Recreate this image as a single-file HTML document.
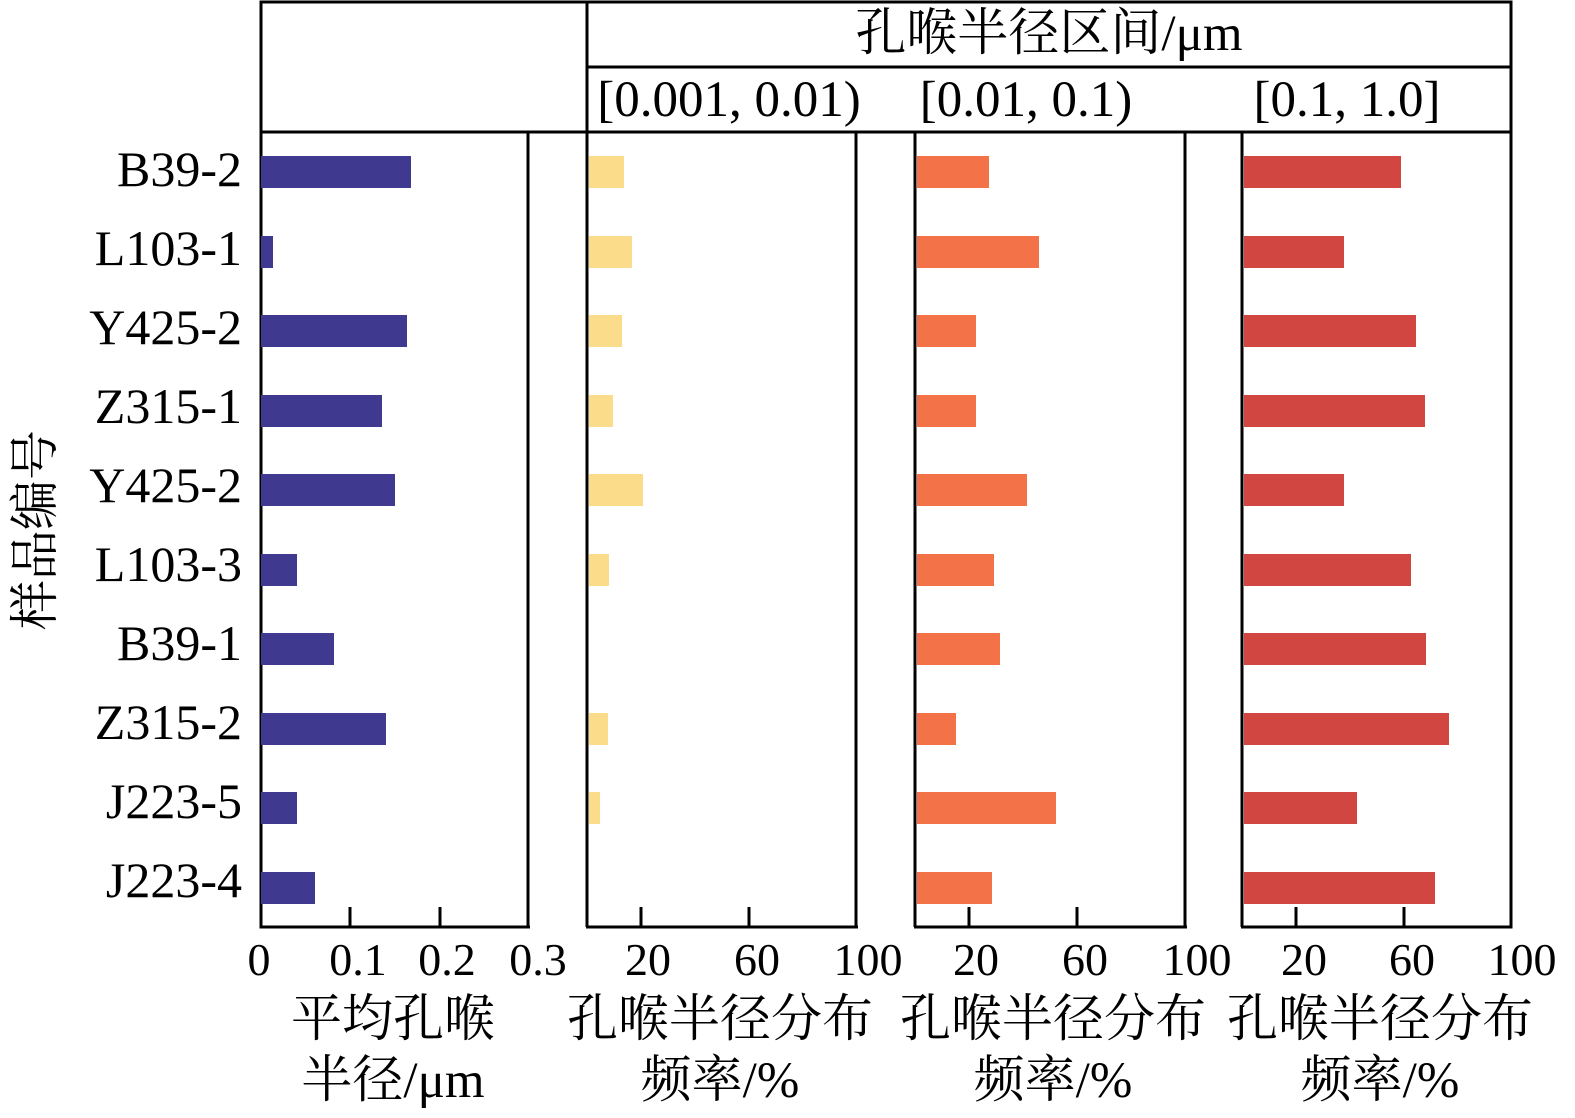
<!DOCTYPE html>
<html><head><meta charset="utf-8"><style>html,body{margin:0;background:#fff;overflow:hidden}svg{display:block}text{font-family:"Liberation Serif","Noto Serif CJK SC",serif;fill:#000}</style></head>
<body>
<svg width="1575" height="1118" viewBox="0 0 1575 1118" xmlns="http://www.w3.org/2000/svg">
<g fill="none" stroke="#000" stroke-width="3">
<rect x="261" y="2" width="1250" height="925"/>
<line x1="261" y1="132" x2="1511" y2="132"/>
</g>
<rect x="530" y="134" width="56" height="795" fill="#fff"/>
<rect x="858" y="134" width="56" height="795" fill="#fff"/>
<rect x="1187" y="134" width="54" height="795" fill="#fff"/>
<g stroke="#000" stroke-width="3">
<line x1="528" y1="132" x2="528" y2="927"/>
<line x1="587" y1="2" x2="587" y2="927"/>
<line x1="587" y1="67" x2="1511" y2="67"/>
<line x1="856" y1="132" x2="856" y2="927"/>
<line x1="915" y1="132" x2="915" y2="927"/>
<line x1="1185" y1="132" x2="1185" y2="927"/>
<line x1="1242" y1="132" x2="1242" y2="927"/>
<line x1="261" y1="927" x2="528" y2="927"/>
<line x1="587" y1="927" x2="856" y2="927"/>
<line x1="915" y1="927" x2="1185" y2="927"/>
<line x1="1242" y1="927" x2="1511" y2="927"/>
<line x1="350" y1="907" x2="350" y2="927"/><line x1="440" y1="907" x2="440" y2="927"/>
<line x1="641" y1="907" x2="641" y2="927"/><line x1="749" y1="907" x2="749" y2="927"/>
<line x1="969" y1="907" x2="969" y2="927"/><line x1="1077" y1="907" x2="1077" y2="927"/>
<line x1="1296" y1="907" x2="1296" y2="927"/><line x1="1404" y1="907" x2="1404" y2="927"/>
<line x1="261" y1="2" x2="261" y2="927"/>
</g>
<g fill="#3f3a8f">
<rect x="261" y="156" width="150" height="32"/><rect x="261" y="236" width="12" height="32"/><rect x="261" y="315" width="146" height="32"/><rect x="261" y="395" width="121" height="32"/><rect x="261" y="474" width="134" height="32"/><rect x="261" y="554" width="36" height="32"/><rect x="261" y="633" width="73" height="32"/><rect x="261" y="713" width="125" height="32"/><rect x="261" y="792" width="36" height="32"/><rect x="261" y="872" width="54" height="32"/>
</g>
<g fill="#fbdc8a">
<rect x="589" y="156" width="35" height="32"/><rect x="589" y="236" width="43" height="32"/><rect x="589" y="315" width="33" height="32"/><rect x="589" y="395" width="24" height="32"/><rect x="589" y="474" width="54" height="32"/><rect x="589" y="554" width="20" height="32"/><rect x="589" y="713" width="19" height="32"/><rect x="589" y="792" width="11" height="32"/>
</g>
<g fill="#f37248">
<rect x="917" y="156" width="72" height="32"/><rect x="917" y="236" width="122" height="32"/><rect x="917" y="315" width="59" height="32"/><rect x="917" y="395" width="59" height="32"/><rect x="917" y="474" width="110" height="32"/><rect x="917" y="554" width="77" height="32"/><rect x="917" y="633" width="83" height="32"/><rect x="917" y="713" width="39" height="32"/><rect x="917" y="792" width="139" height="32"/><rect x="917" y="872" width="75" height="32"/>
</g>
<g fill="#d14640">
<rect x="1244" y="156" width="157" height="32"/><rect x="1244" y="236" width="100" height="32"/><rect x="1244" y="315" width="172" height="32"/><rect x="1244" y="395" width="181" height="32"/><rect x="1244" y="474" width="100" height="32"/><rect x="1244" y="554" width="167" height="32"/><rect x="1244" y="633" width="182" height="32"/><rect x="1244" y="713" width="205" height="32"/><rect x="1244" y="792" width="113" height="32"/><rect x="1244" y="872" width="191" height="32"/>
</g>
<g font-size="50" text-anchor="end">
<text x="242" y="186">B39-2</text><text x="242" y="265">L103-1</text><text x="242" y="344">Y425-2</text><text x="242" y="423">Z315-1</text><text x="242" y="502">Y425-2</text><text x="242" y="581">L103-3</text><text x="242" y="660">B39-1</text><text x="242" y="739">Z315-2</text><text x="242" y="818">J223-5</text><text x="242" y="897">J223-4</text>
</g>
<g font-size="46" text-anchor="middle">
<text x="259" y="975">0</text><text x="358" y="975">0.1</text><text x="447" y="975">0.2</text><text x="538" y="975">0.3</text>
<text x="648" y="975">20</text><text x="757" y="975">60</text><text x="868" y="975">100</text>
<text x="976" y="975">20</text><text x="1085" y="975">60</text><text x="1197" y="975">100</text>
<text x="1304" y="975">20</text><text x="1412" y="975">60</text><text x="1522" y="975">100</text>
</g>
<g font-size="51" text-anchor="middle">
<text x="393" y="1036">平均孔喉</text><text x="393" y="1097">半径/μm</text>
<text x="720" y="1036">孔喉半径分布</text><text x="720" y="1097">频率/%</text>
<text x="1053" y="1036">孔喉半径分布</text><text x="1053" y="1097">频率/%</text>
<text x="1380" y="1036">孔喉半径分布</text><text x="1380" y="1097">频率/%</text>
</g>
<text x="1049" y="50" font-size="51" text-anchor="middle">孔喉半径区间/μm</text>
<g font-size="51" text-anchor="middle">
<text x="729" y="116">[0.001, 0.01)</text><text x="1026" y="116">[0.01, 0.1)</text><text x="1347" y="116">[0.1, 1.0]</text>
</g>
<text font-size="50" text-anchor="middle" transform="translate(52,530) rotate(-90)">样品编号</text>
</svg>
</body></html>
